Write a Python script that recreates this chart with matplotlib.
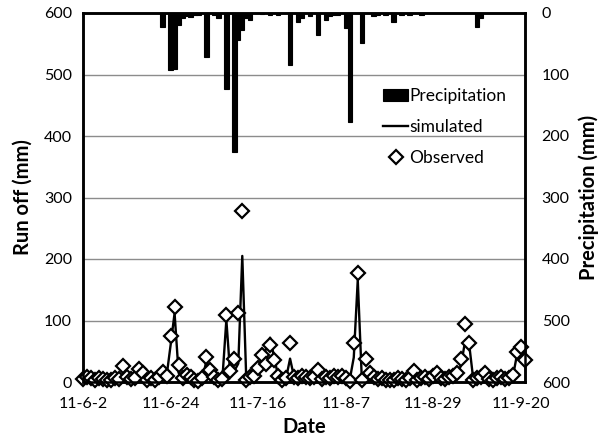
import matplotlib
matplotlib.use('Agg')
import matplotlib.pyplot as plt
import numpy as np

plt.rcParams['font.family'] = ['Lato', 'DejaVu Sans']

# daily series, 11-6-2 (day 0) to 11-9-21 (day 111)
tickDays = [0, 22, 44, 66, 88, 110]
tickLabels = ['11-6-2', '11-6-24', '11-7-16', '11-8-7', '11-8-29', '11-9-20']

observed = [5, 8, 6, 4, 7, 5, 3, 4, 6, 5,
            26, 8, 5, 6, 21, 15, 3, 6, 4, 8,
            17, 10, 74, 122, 28, 6, 12, 8, 4, 2,
            6, 40, 20, 8, 3, 5, 109, 18, 38, 112,
            278, 4, 8, 10, 22, 44, 30, 60, 36, 10,
            4, 6, 64, 8, 6, 10, 8, 6, 8, 20,
            5, 8, 6, 10, 8, 9, 6, 2, 64, 178,
            3, 38, 15, 8, 5, 6, 4, 3, 4, 6,
            5, 3, 6, 18, 4, 6, 8, 5, 10, 14,
            6, 5, 8, 10, 14, 38, 94, 64, 3, 6,
            8, 15, 5, 4, 6, 8, 5, 7, 12, 48,
            57, 35]

simulated = [4, 5, 4, 3, 5, 4, 3, 4, 5, 4,
             6, 5, 4, 5, 6, 5, 4, 5, 4, 5,
             8, 10, 60, 112, 15, 6, 8, 6, 4, 3,
             5, 35, 12, 6, 4, 5, 101, 10, 18, 30,
             205, 5, 6, 8, 15, 35, 55, 72, 40, 10,
             5, 6, 38, 8, 6, 8, 6, 5, 6, 10,
             5, 6, 5, 6, 6, 8, 6, 4, 40, 166,
             8, 12, 8, 6, 5, 5, 4, 4, 5, 5,
             4, 4, 5, 8, 5, 5, 6, 5, 7, 8,
             5, 5, 6, 7, 9, 30, 68, 60, 5, 5,
             6, 8, 5, 4, 5, 6, 5, 6, 10, 45,
             55, 50]

precipitation = [0, 0, 0, 0, 0, 0, 0, 0, 0, 0,
                 0, 0, 0, 0, 0, 0, 0, 0, 0, 0,
                 22, 0, 93, 91, 20, 8, 5, 6, 3, 4,
                 0, 71, 0, 3, 8, 0, 124, 0, 226, 44,
                 28, 8, 11, 0, 0, 2, 0, 3, 0, 4,
                 0, 0, 85, 0, 14, 8, 0, 5, 0, 36,
                 0, 11, 5, 4, 3, 0, 25, 177, 0, 0,
                 49, 0, 0, 5, 4, 0, 3, 0, 14, 0,
                 4, 0, 4, 0, 0, 3, 0, 0, 0, 0,
                 0, 0, 0, 0, 0, 0, 0, 0, 0, 22,
                 8, 0, 0, 0, 0, 0, 0, 0, 0, 0,
                 0, 0]

days = np.arange(len(observed))

figureWidth = 6.12
figureHeight = 4.37
fig = plt.figure(figsize=(figureWidth, figureHeight), dpi=100)

# panel placed in pixels: left 83, bottom 55, width 442, height 369
ax = fig.add_axes([83/612, 55/437, 442/612, 369/437])
ax2 = ax.twinx()

# gridlines
for g in [100, 200, 300, 400, 500]:
    ax.axhline(g, color='#8c8c8c', linewidth=1.0, zorder=0)

ax.plot(days, simulated, color='black', linewidth=1.7, label='simulated', zorder=3)
ax.plot(days, observed, linestyle='none', marker='D', markersize=7,
        markerfacecolor='white', markeredgecolor='black', markeredgewidth=1.6,
        label='Observed', zorder=4, clip_on=False)

ax2.bar(days, precipitation, width=1.1, color='black', edgecolor='black',
        linewidth=0.8, label='Precipitation')

ax.set_xlim(0, 111)
ax.set_ylim(0, 600)
ax2.set_ylim(600, 0)

ax.set_yticks([0, 100, 200, 300, 400, 500, 600])
ax2.set_yticks([0, 100, 200, 300, 400, 500, 600])
ax.set_xticks(tickDays)
ax.set_xticklabels(tickLabels)

ax.tick_params(axis='both', length=0, labelsize=11.5, pad=8)
ax2.tick_params(axis='y', length=0, labelsize=11.5, pad=12)
ax.tick_params(axis='x', pad=11)

for spine in ['left', 'right', 'top', 'bottom']:
    ax2.spines[spine].set_linewidth(1.8)
    ax.spines[spine].set_linewidth(1.8)

ax.set_xlabel('Date', fontsize=14.5, fontweight='bold', labelpad=4)
ax.set_ylabel('Run off (mm)', fontsize=14.5, fontweight='bold', labelpad=8)
ax2.set_ylabel('Precipitation (mm)', fontsize=14.5, fontweight='bold', labelpad=6)

h1, l1 = ax2.get_legend_handles_labels()
h2, l2 = ax.get_legend_handles_labels()
ax2.legend(h1 + h2, l1 + l2, loc='upper left', bbox_to_anchor=(0.66, 0.82),
           frameon=False, fontsize=12.5, handlelength=1.4, handletextpad=0.1,
           labelspacing=0.85, borderpad=0)

plt.savefig('out.png', dpi=100)
